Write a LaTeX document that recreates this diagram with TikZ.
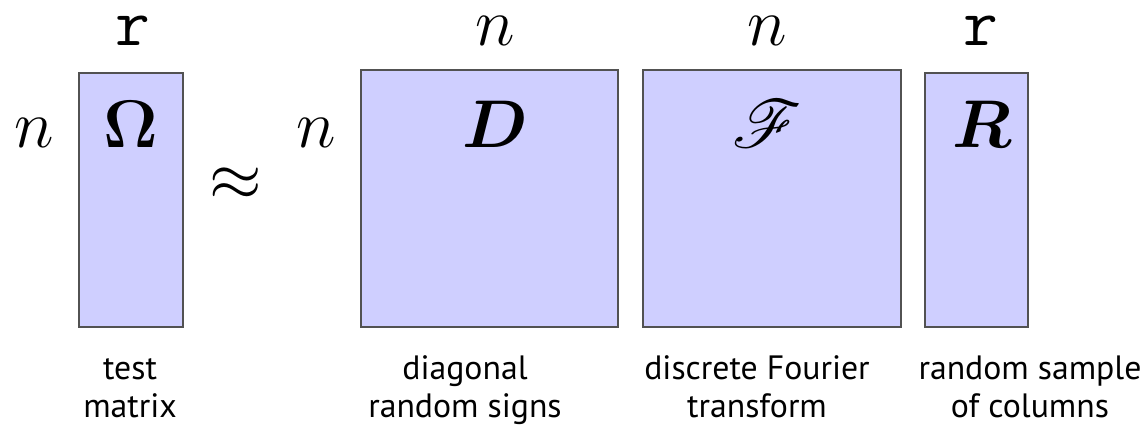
\RequirePackage{fix-cm}
\documentclass[tikz,border=0pt]{standalone}
\usepackage{fontspec}
\usepackage{amsmath}
\usepackage{amssymb}
\usepackage{mathrsfs}
\DeclareFontFamily{U}{rsfs}{\skewchar\font127 }
\DeclareFontShape{U}{rsfs}{m}{n}{<-> rsfs10}{}
\newfontfamily\capfont{PT Sans}
\tikzset{
  matbox/.style={draw=black!68, line width=1.8pt, fill=blue!19, inner sep=0},
  bigmath/.style={font=\fontsize{48}{58}\selectfont, inner sep=0, anchor=base},
  caption/.style={font=\capfont\fontsize{24}{27}\selectfont, align=center, inner sep=0, anchor=base}
}

\begin{document}
\begin{tikzpicture}[x=0.025cm,y=-0.025cm]
\useasboundingbox (0,0) rectangle (1144,424);
% the four matrices
\node[matbox, minimum width=2.6cm,   minimum height=6.35cm]  (omega) at (131,200)   {};
\node[matbox, minimum width=6.425cm, minimum height=6.425cm] (dmat)  at (489.5,198.5) {};
\node[matbox, minimum width=6.45cm,  minimum height=6.425cm] (fmat)  at (772,198.5) {};
\node[matbox, minimum width=2.575cm, minimum height=6.35cm]  (rmat)  at (976.5,200) {};
% names inside
\node[bigmath] (omeganame) at (131,147) {$\boldsymbol{\Omega}$};
\node[bigmath] (dname)     at (495,147) {$\boldsymbol{D}$};
\node[bigmath] (fname)     at (767,147) {$\mathscr{F}$};
\node[bigmath] (rname)     at (982,147) {$\boldsymbol{R}$};
% sizes
\node[bigmath] (omegacols) at (133,45)  {\texttt{r}};
\node[bigmath] (omegarows) at (34,147)  {$n$};
\node[bigmath] (dcols)     at (495,45)  {$n$};
\node[bigmath] (drows)     at (316,147) {$n$};
\node[bigmath] (fcols)     at (767,45)  {$n$};
\node[bigmath] (rcols)     at (981,45)  {\texttt{r}};
\node[font=\fontsize{48}{58}\selectfont, inner sep=0] (approx) at (236,184) {$\approx$};
% captions
\node[caption] (omegacap) at (130,417)  {test\\matrix};
\node[caption] (dcap)     at (465,417)  {diagonal\\random signs};
\node[caption] (fcap)     at (757,417)  {discrete Fourier\\transform};
\node[caption] (rcap)     at (1030,417) {random sample\\of columns};
\end{tikzpicture}
\end{document}
